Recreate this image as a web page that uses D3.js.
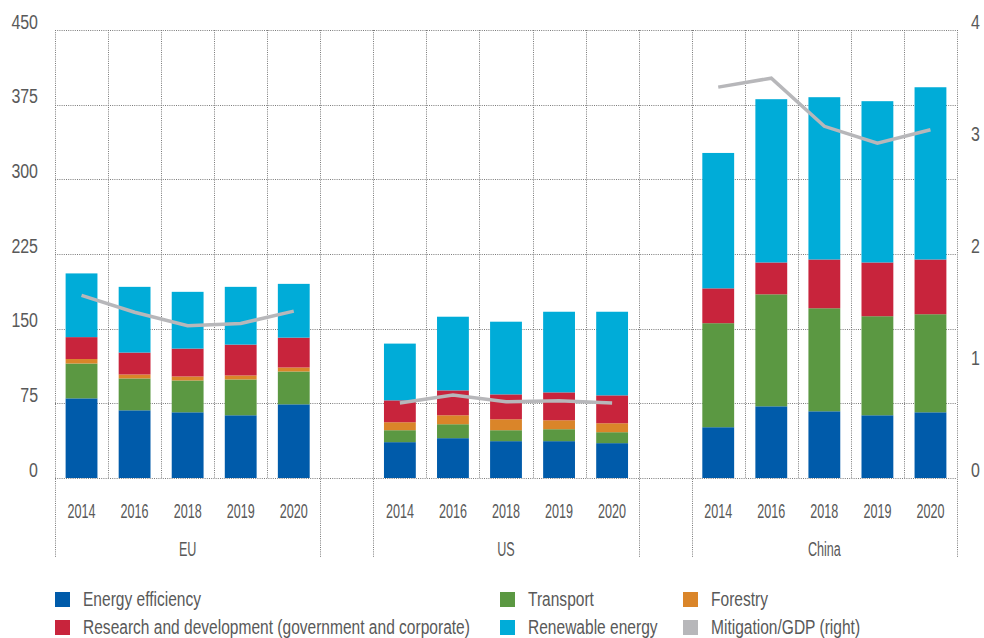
<!DOCTYPE html>
<html><head><meta charset="utf-8">
<script src="https://cdn.jsdelivr.net/npm/d3@7"></script>
<style>
body{margin:0;background:#fff;}
text{font-family:"Liberation Sans",Arial,sans-serif;fill:#595959;}
</style></head>
<body><svg id="chart" width="984" height="638"></svg>
<script>
const regions = ["EU","US","China"];
const years = ["2014","2016","2018","2019","2020"];
const seriesNames = ["Energy efficiency","Transport","Forestry","Research and development (government and corporate)","Renewable energy"];
const lineName = "Mitigation/GDP (right)";
const seriesKeys = ["ee","tr","fo","rd","re"];
// values per region, in the order of years
const energyEfficiency = {EU:[80,68,66,63,74], US:[36,40,37,37,35], China:[51,72,67,63,66]};
const transport        = {EU:[35,32,32,36,33], US:[12,14,11,12,11], China:[104.5,112.5,103.5,99.5,98.5]};
const forestry         = {EU:[4.5,4,4,4,4],    US:[8,9,11,9,9],    China:[0,0,0,0,0]};
const researchDev      = {EU:[22,22,28,31,30], US:[22,25,25,28,28], China:[35,32,49,54,55]};
const renewable        = {EU:[64,66,57,58,54], US:[57,74,73,81,84], China:[136,164,163,162,173]};
const mitigationGDP    = {EU:[1.63,1.48,1.36,1.38,1.49], US:[0.67,0.74,0.68,0.69,0.67], China:[3.49,3.57,3.14,2.99,3.11]};
const leftTicks = [0,75,150,225,300,375,450];
const rightTicks = [0,1,2,3,4];
const colors = {ee:"#005BAA", tr:"#5B9842", fo:"#DA8529", rd:"#C8243C", re:"#00ACD8", line:"#B7B7BA"};

const svg = d3.select("#chart");
const L = 55, R = 957, T = 30, B = 478;

const slots = [];
regions.forEach((r,i)=>{
  years.forEach(y=>slots.push(r+"|"+y));
  if(i<regions.length-1) slots.push("gap"+i);
});
const x = d3.scaleBand().domain(slots).range([L,R]).padding(0);
const y = d3.scaleLinear().domain([0,450]).range([B,T]);
const y2 = d3.scaleLinear().domain([0,4]).range([B,T]);
const bw = x.bandwidth();
const barW = bw*0.6;

const rows = [];
regions.forEach(r=>years.forEach((yr,i)=>{
  rows.push({key:r+"|"+yr, region:r, year:yr,
    ee:energyEfficiency[r][i], tr:transport[r][i], fo:forestry[r][i], rd:researchDev[r][i], re:renewable[r][i],
    m:mitigationGDP[r][i]});
}));
const stack = d3.stack().keys(seriesKeys)(rows);

// condensed text helper
function ctext(sel, fx, fy, sx){
  return sel.attr("transform",(d,i)=>`translate(${fx(d,i)},${fy(d,i)}) scale(${sx},1)`);
}

const grid = svg.append("g").attr("stroke","#7a7a7a").attr("stroke-width",1).attr("stroke-dasharray","1,1.2");
leftTicks.forEach(t=>{
  grid.append("line").attr("x1",L).attr("x2",R).attr("y1",Math.round(y(t))+0.5).attr("y2",Math.round(y(t))+0.5);
});
const bounds = slots.map(s=>x(s)).concat([R]);
const groupBounds = [];
regions.forEach(r=>{
  groupBounds.push(x(r+"|"+years[0]));
  groupBounds.push(x(r+"|"+years[years.length-1])+bw);
});
bounds.forEach(bx=>{
  const isGroup = groupBounds.some(g=>Math.abs(g-bx)<0.5);
  grid.append("line").attr("x1",Math.round(bx)+0.5).attr("x2",Math.round(bx)+0.5)
    .attr("y1",T).attr("y2",isGroup?558:B);
});

const bars = svg.append("g");
stack.forEach(layer=>{
  bars.append("g").attr("fill",colors[layer.key]).selectAll("rect").data(layer).join("rect")
    .attr("x",d=>x(d.data.key)+(bw-barW)/2)
    .attr("width",barW)
    .attr("y",d=>y(d[1]))
    .attr("height",d=>Math.max(0,y(d[0])-y(d[1])));
});

const line = d3.line().x(d=>x(d.key)+bw/2).y(d=>y2(d.m));
regions.forEach(r=>{
  svg.append("path").datum(rows.filter(d=>d.region===r))
    .attr("d",line).attr("fill","none").attr("stroke",colors.line).attr("stroke-width",3.5);
});

// left axis labels
ctext(svg.append("g").selectAll("text").data(leftTicks).join("text")
  .attr("text-anchor","end").attr("dominant-baseline","middle").attr("font-size",21).text(d=>d),
  d=>38, d=>y(d)-7, 0.76);
// right axis labels
ctext(svg.append("g").selectAll("text").data(rightTicks).join("text")
  .attr("text-anchor","start").attr("dominant-baseline","middle").attr("font-size",21).text(d=>d),
  d=>971, d=>y2(d)-7, 0.76);
// year labels
ctext(svg.append("g").selectAll("text").data(rows).join("text")
  .attr("text-anchor","middle").attr("dominant-baseline","middle").attr("font-size",21).text(d=>d.year),
  d=>x(d.key)+bw/2, d=>512, 0.6);
// region labels
ctext(svg.append("g").selectAll("text").data(regions).join("text")
  .attr("text-anchor","middle").attr("dominant-baseline","middle").attr("font-size",21).text(r=>r),
  r=>(x(r+"|"+years[0])+x(r+"|"+years[years.length-1])+bw)/2, r=>550, 0.6);

// legend
const legendItems = [
  {name:seriesNames[0], c:colors.ee, x:55, y:600},
  {name:seriesNames[1], c:colors.tr, x:500, y:600},
  {name:seriesNames[2], c:colors.fo, x:683, y:600},
  {name:seriesNames[3], c:colors.rd, x:55, y:628},
  {name:seriesNames[4], c:colors.re, x:500, y:628},
  {name:lineName, c:colors.line, x:683, y:628}
];
const lg = svg.append("g").selectAll("g").data(legendItems).join("g");
lg.append("rect").attr("x",d=>d.x).attr("y",d=>d.y-8).attr("width",15).attr("height",15).attr("fill",d=>d.c);
ctext(lg.append("text").attr("dominant-baseline","middle").attr("font-size",21).text(d=>d.name),
  d=>d.x+28, d=>d.y, 0.74);
</script></body></html>
